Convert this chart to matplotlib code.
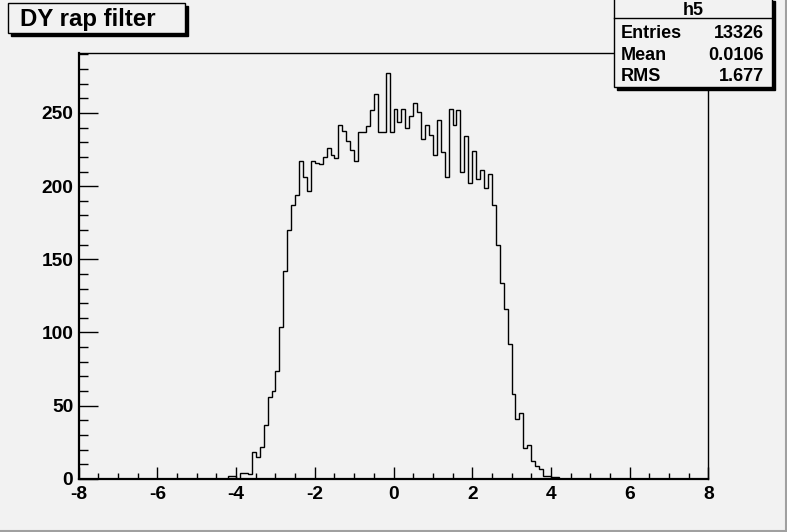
"""
ROOT-style histogram of the DY rapidity after filter (h5), redrawn with matplotlib
"""

# ------ load modules ------
import matplotlib
matplotlib.use('Agg')
import matplotlib.pyplot as plt
import numpy as np
from matplotlib.patches import Rectangle
from matplotlib.ticker import MultipleLocator

# ------ data ------
# histogram: 160 bins of width 0.1 from -8 to 8, only bins from -4.2 to 4.2 are filled
x_min, x_max, n_bins = -8.0, 8.0, 160
first_bin_low = -4.2  # lower edge of the first listed bin
counts_filled = [2, 2, 0, 4, 4, 3, 18, 15, 22, 37,
                 56, 60, 74, 104, 142, 170, 187, 194, 217, 206,
                 197, 217, 216, 215, 220, 226, 221, 219, 242, 238,
                 231, 225, 217, 237, 237, 241, 252, 263, 237, 237,
                 277, 237, 253, 244, 253, 240, 248, 257, 251, 232,
                 242, 235, 221, 245, 223, 206, 253, 242, 252, 210,
                 234, 202, 224, 205, 211, 199, 208, 187, 160, 134,
                 116, 92, 58, 41, 45, 21, 23, 12, 9, 7,
                 2, 2, 1, 1]

title_text = 'DY rap filter'
stats_name = 'h5'
stats_labels = ['Entries', 'Mean', 'RMS']
stats_values = ['13326', '0.0106', '1.677']

x_ticks = [-8, -6, -4, -2, 0, 2, 4, 6, 8]
y_ticks = [0, 50, 100, 150, 200, 250]

# -- fill the full bin array --
edges = np.linspace(x_min, x_max, n_bins + 1)
counts = np.zeros(n_bins)
i0 = int(round((first_bin_low - x_min) / 0.1))
counts[i0:i0 + len(counts_filled)] = counts_filled

# ------ figure ------
W, H = 787, 532
bg = '#f2f2f2'
plt.rcParams['font.family'] = ['Liberation Sans', 'DejaVu Sans']
plt.rcParams['font.weight'] = 'bold'
plt.rcParams['axes.unicode_minus'] = False  # ROOT labels use a plain hyphen

fig = plt.figure(figsize=(W / 100, H / 100), dpi=100, facecolor=bg)
ax = fig.add_axes([0.1, 0.1, 0.8, 0.8], facecolor=bg)

ax.stairs(counts, edges, color='black', linewidth=1.0)

ax.set_xlim(x_min, x_max)
ax.set_ylim(0, 1.05 * max(counts_filled))

ax.set_xticks(x_ticks)
ax.set_yticks(y_ticks)
ax.xaxis.set_minor_locator(MultipleLocator(0.5))
ax.yaxis.set_minor_locator(MultipleLocator(10))
ax.tick_params(axis='both', which='both', direction='in', top=False, right=False,
               labelsize=13.8, width=1.0)
ax.tick_params(axis='x', which='major', length=9, pad=5)
ax.tick_params(axis='x', which='minor', length=4.5)
ax.tick_params(axis='y', which='major', length=13.5, pad=4)
ax.tick_params(axis='y', which='minor', length=6.7)
for lbl in ax.get_xticklabels() + ax.get_yticklabels():
    lbl.set_fontweight('bold')

for side in ['left', 'bottom']:
    ax.spines[side].set_linewidth(1.6)
for side in ['top', 'right']:
    ax.spines[side].set_linewidth(1.0)


# -- helper: pixel box -> figure coords --
def px_box(x0, y0, x1, y1):
    return x0 / W, 1 - y1 / H, (x1 - x0) / W, (y1 - y0) / H


def box_with_shadow(x0, y0, x1, y1, shadow=3):
    sx, sy, sw, sh = px_box(x0 + shadow, y0 + shadow, x1 + shadow, y1 + shadow)
    fig.patches.append(Rectangle((sx, sy), sw, sh, transform=fig.transFigure,
                                 facecolor='black', edgecolor='black', zorder=5))
    bx, by, bw, bh = px_box(x0, y0, x1, y1)
    fig.patches.append(Rectangle((bx, by), bw, bh, transform=fig.transFigure,
                                 facecolor=bg, edgecolor='black', linewidth=1.0, zorder=6))


# -- title box --
box_with_shadow(8, 3, 185, 33)
fig.text(20 / W, 1 - 19.5 / H, title_text, fontsize=17.3, fontweight='bold',
         ha='left', va='center', zorder=7)

# -- stats box --
box_with_shadow(614, -2, 772, 87)
fig.lines.append(plt.Line2D([614 / W, 772 / W], [1 - 18 / H, 1 - 18 / H],
                            transform=fig.transFigure, color='black', lw=1.0, zorder=7))
fig.text(693 / W, 1 - 10.5 / H, stats_name, fontsize=13, fontweight='bold',
         ha='center', va='center', zorder=7)
for k, (lab, val) in enumerate(zip(stats_labels, stats_values)):
    yy = 1 - (33.5 + k * 21.5) / H
    fig.text(621 / W, yy, lab, fontsize=13, fontweight='bold', ha='left', va='center', zorder=7)
    fig.text(764 / W, yy, val, fontsize=13, fontweight='bold', ha='right', va='center', zorder=7)

# -- canvas border --
fig.lines.append(plt.Line2D([0, 1], [1.5 / H, 1.5 / H], transform=fig.transFigure,
                            color='#a0a0a0', lw=1.5))
fig.lines.append(plt.Line2D([1 - 1.5 / W, 1 - 1.5 / W], [0, 1], transform=fig.transFigure,
                            color='#a0a0a0', lw=1.5))

fig.savefig('out.png', dpi=100, facecolor=bg)
